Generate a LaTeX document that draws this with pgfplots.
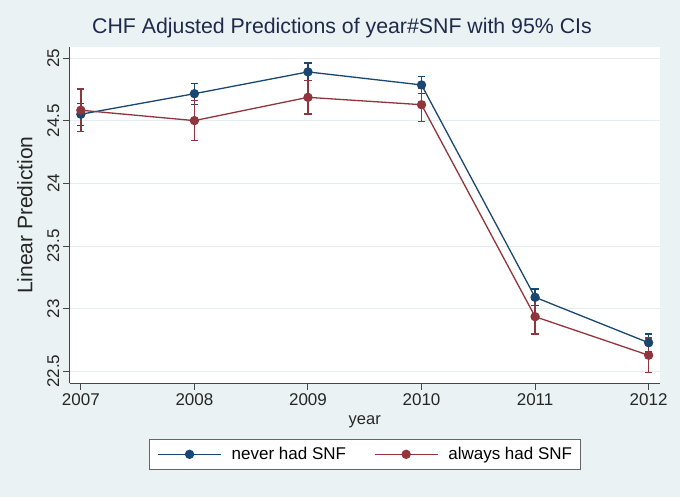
\documentclass[border=0pt]{standalone}
\usepackage{pgfplots}
\usepackage{pgfplotstable}
\pgfplotsset{compat=1.18}
\usepackage{fontspec}
\setmainfont{Liberation Sans}
\definecolor{snavy}{RGB}{26,71,111}
\definecolor{smaroon}{RGB}{144,53,59}
\definecolor{sbg}{RGB}{234,242,243}
\definecolor{sgrid}{RGB}{228,238,240}
\definecolor{saxis}{RGB}{70,70,70}
\definecolor{stitle}{RGB}{30,42,75}

\pgfplotstableread{
x y e
2007 24.553 0.088
2008 24.717 0.084
2009 24.891 0.070
2010 24.787 0.070
2011 23.091 0.066
2012 22.728 0.070
}\nevertab

\pgfplotstableread{
x y e
2007 24.585 0.169
2008 24.502 0.161
2009 24.688 0.133
2010 24.629 0.133
2011 22.936 0.138
2012 22.628 0.138
}\alwaystab

\begin{document}
\begin{tikzpicture}
\fill[sbg] (0,0) rectangle (680bp,497bp);
\begin{axis}[
  at={(69.5bp,113.7bp)}, anchor=south west,
  scale only axis, width=590.5bp, height=336.3bp,
  xmin=2006.9, xmax=2012.1, ymin=22.404, ymax=25.09,
  axis x line*=bottom, axis y line*=left,
  axis line style={saxis, line width=1bp, -},
  axis background/.style={fill=white},
  tick align=outside, major tick length=6.7bp,
  tick style={saxis, line width=1bp},
  xtick={2007,2008,2009,2010,2011,2012},
  ytick={22.5,23,23.5,24,24.5,25},
  ymajorgrids, grid style={sgrid, line width=1bp},
  /pgf/number format/assume math mode=true,
  /pgf/number format/1000 sep={},
  ticklabel style={font=\fontsize{17bp}{20bp}\selectfont, text=black!85},
  yticklabel style={rotate=90, anchor=south},
  xlabel={year}, ylabel={Linear Prediction},
  xlabel style={at={(axis description cs:0.5,-0.1219)}, anchor=base, font=\fontsize{16.5bp}{19bp}\selectfont, text=black!85},
  ylabel style={at={(axis description cs:-0.0754,0.5)}, anchor=center, font=\fontsize{21bp}{24bp}\selectfont, text=black!85},
  title={CHF Adjusted Predictions of year\#SNF with 95\% CIs},
  title style={at={(axis description cs:0.4615,1.0229)}, anchor=base, font=\fontsize{21.3bp}{25bp}\selectfont, text=stitle},
  legend columns=2,
  legend style={at={(axis description cs:0.5,-0.1656)}, anchor=north,
    draw=black!60, line width=0.8bp, fill=white,
    font=\fontsize{17bp}{20bp}\selectfont,
    nodes={inner xsep=0bp, inner ysep=2bp},
    inner xsep=8bp, inner ysep=6bp,
    /tikz/every odd column/.append style={column sep=10bp},
    /tikz/every even column/.append style={column sep=28bp}},
  legend image code/.code={\draw[mark repeat=2,mark phase=2] plot coordinates {(0bp,0bp) (31.5bp,0bp) (63bp,0bp)};},
  clip=false,
]
\addplot[snavy, line width=1.3bp, mark=*, mark size=4bp, mark options={fill=snavy, draw=snavy},
  error bars/.cd, y dir=both, y explicit, error mark=|,
  error bar style={snavy, line width=1.3bp},
  error mark options={snavy, line width=1.3bp, mark size=3.6bp}]
  table[x=x, y=y, y error=e] {\nevertab};
\addlegendentry{never had SNF}
\addplot[smaroon, line width=1.3bp, mark=*, mark size=4bp, mark options={fill=smaroon, draw=smaroon},
  error bars/.cd, y dir=both, y explicit, error mark=|,
  error bar style={smaroon, line width=1.3bp},
  error mark options={smaroon, line width=1.3bp, mark size=3.6bp}]
  table[x=x, y=y, y error=e] {\alwaystab};
\addlegendentry{always had SNF}
\end{axis}
\pgfresetboundingbox
\useasboundingbox (0,0) rectangle (680bp,497bp);
\end{tikzpicture}
\end{document}
